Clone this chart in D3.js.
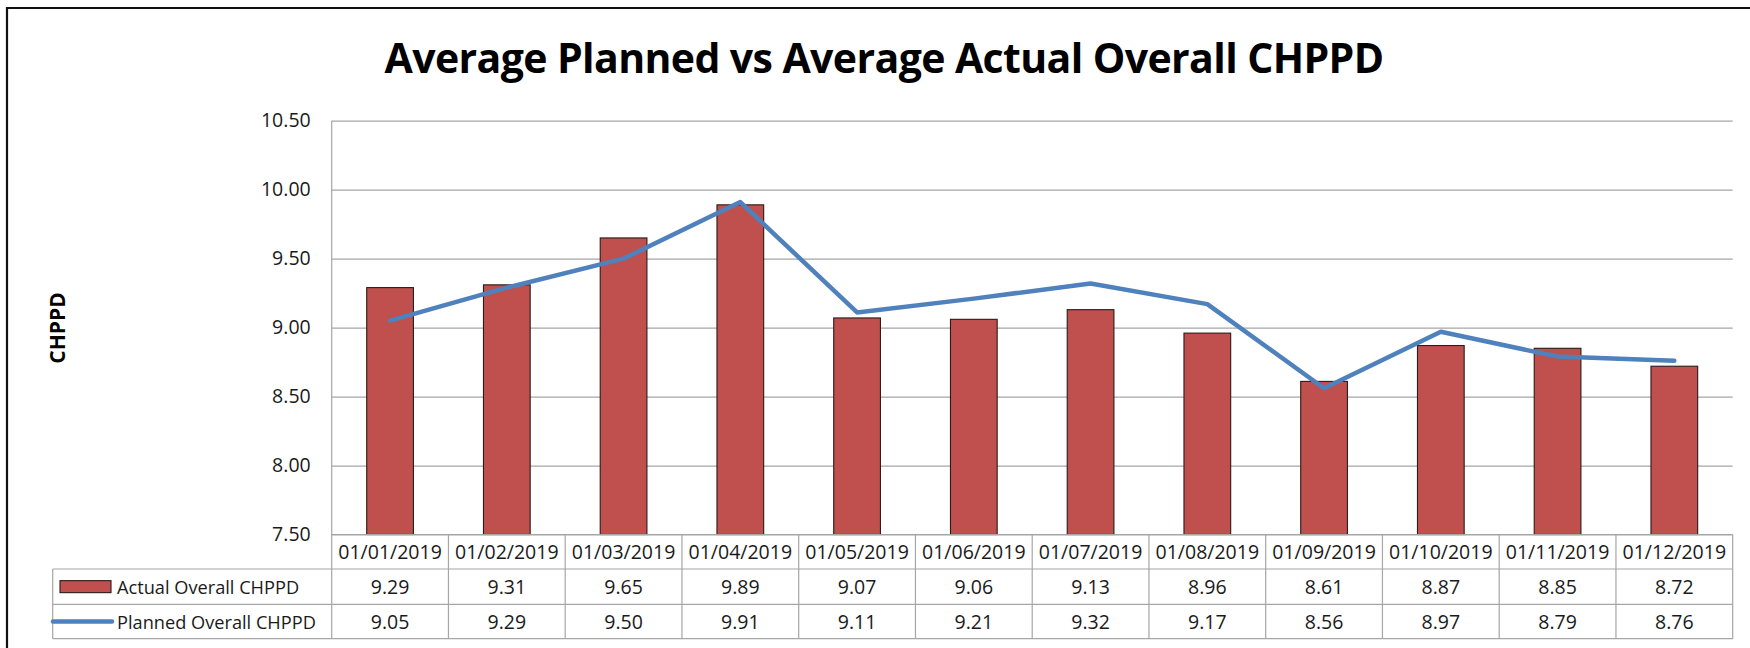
<!DOCTYPE html>
<html>
<head>
<meta charset="utf-8">
<script src="https://cdn.jsdelivr.net/npm/d3@7"></script>
<style>
  html, body { margin: 0; padding: 0; background: #fff; }
  svg { display: block; }
  text { font-family: "Open Sans", "Noto Sans", sans-serif; }
</style>
</head>
<body>
<svg id="chart" width="1750" height="648"></svg>
<script>
// ---- data ----
const categories = ["01/01/2019","01/02/2019","01/03/2019","01/04/2019","01/05/2019","01/06/2019",
                    "01/07/2019","01/08/2019","01/09/2019","01/10/2019","01/11/2019","01/12/2019"];
const actualValues  = [9.29, 9.31, 9.65, 9.89, 9.07, 9.06, 9.13, 8.96, 8.61, 8.87, 8.85, 8.72];
const plannedValues = [9.05, 9.29, 9.50, 9.91, 9.11, 9.21, 9.32, 9.17, 8.56, 8.97, 8.79, 8.76];
const seriesNames = ["Actual Overall CHPPD", "Planned Overall CHPPD"];
const yTicks = [7.5, 8.0, 8.5, 9.0, 9.5, 10.0, 10.5];
const titleText = "Average Planned vs Average Actual Overall CHPPD";
const yAxisTitle = "CHPPD";

// ---- layout ----
const plotLeft = 331.7, plotRight = 1732.7, plotTop = 120.7, plotBottom = 534.5;
const tableLeft = 52.7;
const rowEdges = [plotBottom, 569, 604.3, 638.7];
const barColor = "#C0504D", lineColor = "#4F81BD", gridColor = "#a6a6a6", textColor = "#1a1a1a";
const fontSize = 19.5;

const svg = d3.select("#chart");
svg.append("rect").attr("width", 1750).attr("height", 648).attr("fill", "#fff");

// outer frame (cropped at right/bottom)
svg.append("path").attr("d", "M7,660 L7,8 L1760,8")
   .attr("fill", "none").attr("stroke", "#111").attr("stroke-width", 2.2);

// title
svg.append("text").attr("x", 884).attr("y", 73.3)
   .attr("text-anchor", "middle").attr("font-weight", 700).attr("font-size", 41)
   .attr("letter-spacing", -0.6).attr("fill", "#000").text(titleText);

// scales
const y = d3.scaleLinear().domain([7.5, 10.5]).range([plotBottom, plotTop]);
const xCol = d3.scaleBand().domain(categories).range([plotLeft, plotRight]).padding(0);
const xBar = d3.scaleBand().domain(categories).range([plotLeft, plotRight]).paddingInner(0.6).paddingOuter(0.3);

// gridlines + y labels
const yAxis = d3.axisLeft(y).tickValues(yTicks).tickFormat(d3.format(".2f"))
  .tickSize(-(plotRight - plotLeft)).tickPadding(21);
const gy = svg.append("g").attr("transform", `translate(${plotLeft},0)`).call(yAxis);
gy.select(".domain").remove();
gy.selectAll(".tick line").attr("stroke", gridColor).attr("stroke-width", 1.2);
gy.selectAll(".tick text").attr("font-size", fontSize).attr("fill", textColor)
  .attr("font-family", "Open Sans, sans-serif");

// left axis line
svg.append("line").attr("x1", plotLeft).attr("x2", plotLeft).attr("y1", plotTop).attr("y2", plotBottom)
   .attr("stroke", gridColor).attr("stroke-width", 1.2);

// y axis title
svg.append("text").attr("transform", `translate(57,328) rotate(-90)`)
   .attr("text-anchor", "middle").attr("dominant-baseline", "central")
   .attr("font-weight", 700).attr("font-size", 21).attr("fill", "#000").text(yAxisTitle);

// bars
svg.append("g").selectAll("rect").data(categories).join("rect")
  .attr("x", d => xBar(d)).attr("width", xBar.bandwidth())
  .attr("y", (d, i) => y(actualValues[i]))
  .attr("height", (d, i) => y(7.5) - y(actualValues[i]))
  .attr("fill", barColor).attr("stroke", "#2a1a1a").attr("stroke-width", 1.1);

// line
const line = d3.line().x((d, i) => xCol(categories[i]) + xCol.bandwidth() / 2).y(d => y(d));
svg.append("path").datum(plannedValues).attr("d", line)
   .attr("fill", "none").attr("stroke", lineColor).attr("stroke-width", 4.5)
   .attr("stroke-linejoin", "round").attr("stroke-linecap", "round");

// data table
const tg = svg.append("g");
tg.append("line").attr("x1", plotLeft).attr("x2", plotRight).attr("y1", rowEdges[0]).attr("y2", rowEdges[0]);
rowEdges.slice(1).forEach(yy => {
  tg.append("line").attr("x1", tableLeft).attr("x2", plotRight).attr("y1", yy).attr("y2", yy);
});
const colEdges = categories.map(c => xCol(c)).concat([plotRight]);
colEdges.forEach(xx => {
  tg.append("line").attr("x1", xx).attr("x2", xx).attr("y1", rowEdges[0]).attr("y2", rowEdges[3]);
});
tg.append("line").attr("x1", tableLeft).attr("x2", tableLeft).attr("y1", rowEdges[1]).attr("y2", rowEdges[3]);
tg.selectAll("line").attr("stroke", gridColor).attr("stroke-width", 1.2);

// table texts
const cellText = (sel) => sel.attr("text-anchor", "middle").attr("dominant-baseline", "central")
   .attr("font-size", fontSize).attr("fill", textColor);
svg.append("g").selectAll("text").data(categories).join("text")
  .attr("x", d => xCol(d) + xCol.bandwidth() / 2).attr("y", (rowEdges[0] + rowEdges[1]) / 2)
  .call(cellText).text(d => d);
svg.append("g").selectAll("text").data(actualValues).join("text")
  .attr("x", (d, i) => xCol(categories[i]) + xCol.bandwidth() / 2).attr("y", (rowEdges[1] + rowEdges[2]) / 2)
  .call(cellText).text(d => d3.format(".2f")(d));
svg.append("g").selectAll("text").data(plannedValues).join("text")
  .attr("x", (d, i) => xCol(categories[i]) + xCol.bandwidth() / 2).attr("y", (rowEdges[2] + rowEdges[3]) / 2)
  .call(cellText).text(d => d3.format(".2f")(d));

// legend keys in table
const r1 = (rowEdges[1] + rowEdges[2]) / 2, r2 = (rowEdges[2] + rowEdges[3]) / 2;
svg.append("rect").attr("x", 60).attr("y", r1 - 6).attr("width", 51).attr("height", 12)
   .attr("fill", barColor).attr("stroke", "#2a1a1a").attr("stroke-width", 1.1);
svg.append("line").attr("x1", 53).attr("x2", 112).attr("y1", r2).attr("y2", r2)
   .attr("stroke", lineColor).attr("stroke-width", 4.5).attr("stroke-linecap", "round");
svg.append("text").attr("x", 117).attr("y", r1).attr("dominant-baseline", "central")
   .attr("font-size", 18.2).attr("fill", textColor).text(seriesNames[0]);
svg.append("text").attr("x", 117).attr("y", r2).attr("dominant-baseline", "central")
   .attr("font-size", 18.2).attr("fill", textColor).text(seriesNames[1]);
</script>
</body>
</html>
